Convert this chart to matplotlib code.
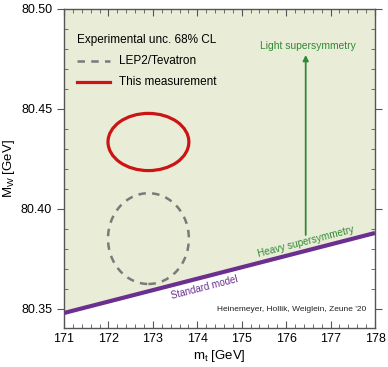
import matplotlib.pyplot as plt
from matplotlib.patches import Ellipse
from matplotlib.ticker import MultipleLocator
import numpy as np

plt.rcParams["font.family"] = ["Liberation Sans", "DejaVu Sans"]

# standard model band edge (mt, MW)
sm_mt = [171.0, 178.0]
sm_mw = [80.348, 80.388]

# ellipses: centre mt, centre MW, half width, half height
lep_ellipse = (172.9, 80.3852, 0.91, 0.0227)
this_ellipse = (172.9, 80.4335, 0.91, 0.0143)

# susy arrow
arrow_mt = 176.44
arrow_mw = [80.387, 80.477]

xlim = (171, 178)
ylim = (80.3405, 80.50)

fig = plt.figure(figsize=(3.88, 3.67), dpi=100)
ax = fig.add_axes([0.165, 0.1063, 0.8015, 0.8692])
ax.set_xlim(xlim)
ax.set_ylim(ylim)

# light green area above the SM line
ax.fill_between(sm_mt, sm_mw, [ylim[1], ylim[1]], color="#e9ecd7", zorder=0)
ax.plot(sm_mt, sm_mw, color="#6b2f8f", lw=3, solid_capstyle="butt", zorder=3)

e1 = Ellipse((lep_ellipse[0], lep_ellipse[1]), 2 * lep_ellipse[2], 2 * lep_ellipse[3],
             fill=False, ec="#7a7a7a", lw=1.8, ls=(0, (3, 2.5)), zorder=2)
e2 = Ellipse((this_ellipse[0], this_ellipse[1]), 2 * this_ellipse[2], 2 * this_ellipse[3],
             fill=False, ec="#cc1414", lw=2.3, zorder=2)
ax.add_patch(e1)
ax.add_patch(e2)

ax.annotate("", xy=(arrow_mt, arrow_mw[1]), xytext=(arrow_mt, arrow_mw[0]),
            arrowprops=dict(arrowstyle="-|>", color="#2f8a35", lw=1.3,
                            mutation_scale=8, shrinkA=0, shrinkB=0))
ax.text(176.5, 80.4815, "Light supersymmetry", color="#2f8a35", fontsize=7.4,
        ha="center", va="center")

# rotate text along the SM line
p1 = ax.transData.transform((sm_mt[0], sm_mw[0]))
p2 = ax.transData.transform((sm_mt[1], sm_mw[1]))
ang = np.degrees(np.arctan2(p2[1] - p1[1], p2[0] - p1[0]))

ax.text(176.45, 80.3838, "Heavy supersymmetry", color="#2f8a35", fontsize=7.2,
        ha="center", va="center", rotation=ang, rotation_mode="anchor")
ax.text(174.17, 80.3608, "Standard model", color="#6b2f8f", fontsize=7,
        ha="center", va="center", rotation=ang, rotation_mode="anchor")
ax.text(177.8, 80.3495, "Heinemeyer, Hollik, Weiglein, Zeune '20", fontsize=6.0,
        ha="right", va="center", color="#222222")

# legend drawn by hand
ax.text(171.29, 80.4845, "Experimental unc. 68% CL", fontsize=8.5, va="center")
ax.plot([171.29, 172.04], [80.4738, 80.4738], color="#7a7a7a", lw=1.8, ls=(0, (3, 2.5)))
ax.text(172.24, 80.4738, "LEP2/Tevatron", fontsize=8.5, va="center")
ax.plot([171.29, 172.04], [80.4633, 80.4633], color="#cc1414", lw=2.3)
ax.text(172.24, 80.4633, "This measurement", fontsize=8.5, va="center")

ax.set_xticks(range(171, 179))
ax.set_yticks([80.35, 80.40, 80.45, 80.50])
ax.set_yticklabels(["80.35", "80.40", "80.45", "80.50"])
ax.xaxis.set_minor_locator(MultipleLocator(0.2))
ax.yaxis.set_minor_locator(MultipleLocator(0.01))
ax.tick_params(which="both", direction="in", top=True, right=True, colors="#555555",
               labelcolor="black", labelsize=9)
ax.tick_params(which="major", length=5)
ax.tick_params(which="minor", length=3)
ax.tick_params(axis="y", which="major", direction="out", length=5)
for s in ax.spines.values():
    s.set_color("#555555")
    s.set_linewidth(1.0)

ax.set_xlabel("m$_\\mathregular{t}$ [GeV]", fontsize=9.5, labelpad=2)
ax.set_ylabel("M$_\\mathregular{W}$ [GeV]", fontsize=9.5, labelpad=3)

fig.savefig("out.png", dpi=100)
